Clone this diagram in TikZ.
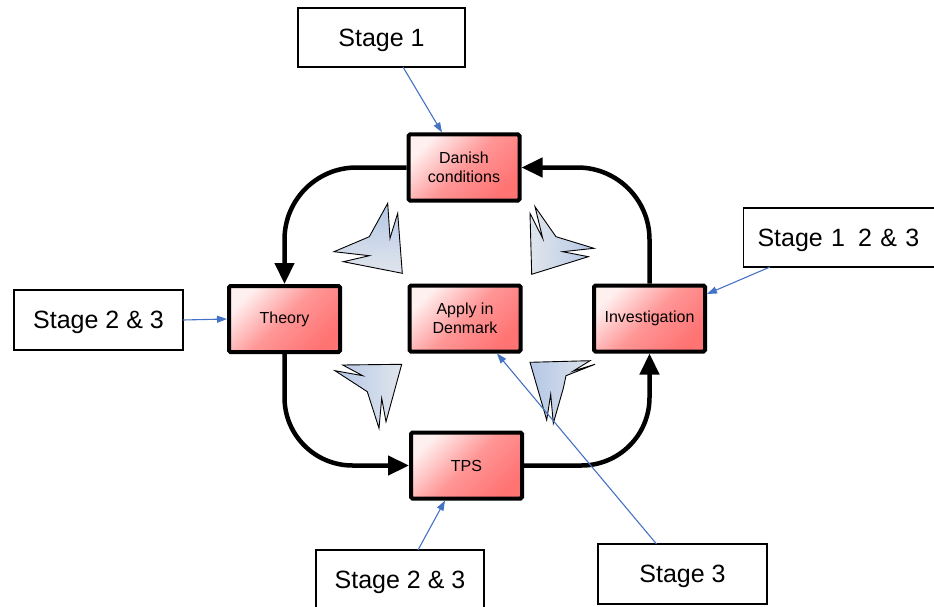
\documentclass[tikz,border=0pt]{standalone}
\usepackage{fontspec}
\setmainfont{Liberation Sans}
\usetikzlibrary{arrows.meta}
\definecolor{boxred}{RGB}{255,115,115}
\definecolor{boxpale}{RGB}{255,240,240}
\definecolor{linkblue}{RGB}{68,114,196}
\definecolor{starblue}{RGB}{180,199,230}
\definecolor{starpale}{RGB}{224,229,236}
\begin{document}
\begin{tikzpicture}[x=1pt,y=-1pt,
  stepbox/.style={draw=black, line width=4pt, rounded corners=1.5pt,
    minimum width=111pt, minimum height=66pt, inner sep=2pt, align=center,
    font=\fontsize{16}{19.5}\selectfont,
    top color=boxpale, bottom color=boxred, middle color=boxred!75!white, shading angle=45},
  labelbox/.style={draw=black, line width=1.3pt, fill=white, outer sep=0pt,
    minimum height=60pt, inner sep=0pt, text depth=0pt, font=\fontsize{25}{29}\selectfont},
  cyclearrow/.style={line width=4.5pt, -{Triangle[length=21pt,width=19pt]}},
  link/.style={draw=linkblue, line width=1.1pt, -{Triangle[length=10pt,width=7pt]}},
  spike/.style={draw=black, line width=0.9pt, line join=miter}
]
\useasboundingbox (0,0) rectangle (934,607);

% four star-shaped markers around the centre
\draw[spike, top color=starblue, bottom color=starpale]
  (387.7,203.3) -- (369.3,236.7) -- (334,251.7) -- (369.3,255.7) -- (343.3,261.7)
  -- (402.3,273.3) -- (397.7,213.3) -- (390,238.3) -- cycle;
\draw[spike, left color=starpale, right color=starblue]
  (535,206.7) -- (556,236.7) -- (594,248.3) -- (562.7,251.7) -- (588.3,256.7)
  -- (531.7,274.3) -- (530,213.3) -- (542.7,238.3) -- cycle;
\draw[spike, left color=starblue, right color=starpale]
  (342.7,365) -- (401.7,364.3) -- (386,421.7) -- (381.7,398.3) -- (379,428.3)
  -- (367.3,391.7) -- (335,370.7) -- (362.7,375.7) -- cycle;
\draw[spike, left color=starblue, right color=starpale]
  (530,362.3) -- (590,360.7) -- (573.3,371) -- (595,364.3) -- (566,375.7)
  -- (563.3,388.3) -- (553.3,423.3) -- (550.7,394.3) -- (546.7,420) -- cycle;

% process steps
\node[stepbox] (dan) at (464,167.5) {Danish\\conditions};
\node[stepbox] (th)  at (284.5,319) {Theory};
\node[stepbox] (app) at (465,318.5) {Apply in\\Denmark};
\node[stepbox] (inv) at (649.5,318.5) {Investigation};
\node[stepbox] (tps) at (466.5,465.5) {TPS};

% stage labels
\node[labelbox, minimum width=167pt, minimum height=59pt] (s1) at (381.5,37.5) {Stage 1};
\node[labelbox, anchor=west, text width=172pt, inner xsep=14pt, minimum height=59pt, align=left]
  (s123) at (743.5,237.5) {Stage 1\hspace{13pt}2 \& 3};
\node[labelbox, minimum width=169pt] (s23l) at (98.5,320) {Stage 2 \& 3};
\node[labelbox, minimum width=168pt] (s23b) at (400,580) {Stage 2 \& 3};
\node[labelbox, minimum width=169pt] (s3)   at (682.5,574) {Stage 3};

% the cycle
\draw[cyclearrow, rounded corners=72pt] (dan.west) -| (th.north);
\draw[cyclearrow, rounded corners=68pt] (th.south) |- (tps.west);
\draw[cyclearrow, rounded corners=68pt] (tps.east) -| (inv.south);
\draw[cyclearrow, rounded corners=72pt] (inv.north) |- (dan.east);

% stage pointers
\draw[link] ([xshift=21.5pt]s1.south) -- ([xshift=-22pt]dan.north);
\draw[link] ([xshift=26.5pt]s123.south west) -- ([yshift=24.5pt]inv.east);
\draw[link] (s23l.east) -- (th.west);
\draw[link] ([xshift=18pt]s23b.north) -- ([xshift=-21.5pt]tps.south);
\draw[link] ([xshift=-26pt]s3.north) -- ([xshift=32pt]app.south);
\end{tikzpicture}
\end{document}
